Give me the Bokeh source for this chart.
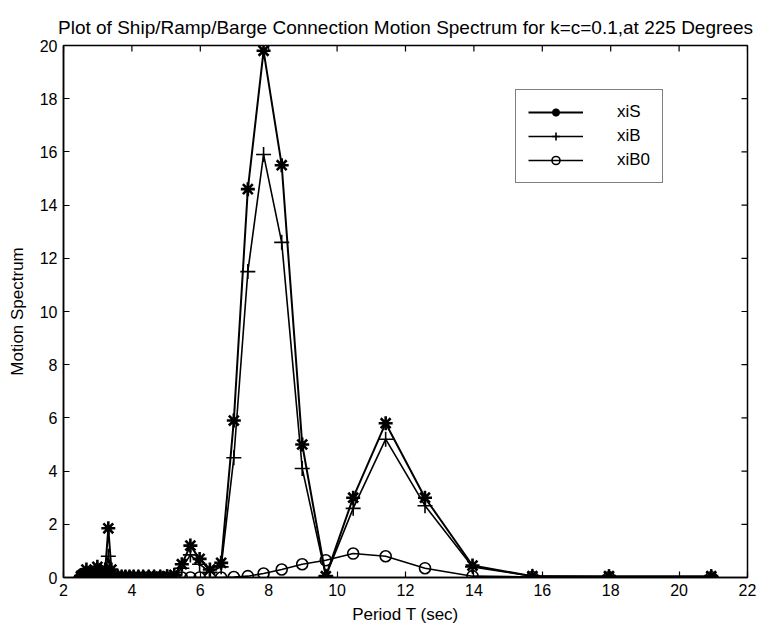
from bokeh.plotting import figure
from bokeh.models import Range1d, FixedTicker, Legend, LegendItem, ColumnDataSource
from bokeh.embed import file_html
from bokeh.resources import INLINE

# Periods (sec), ascending
period = [2.51, 2.56, 2.62, 2.67, 2.73, 2.79, 2.86, 2.92, 2.99, 3.06,
          3.14, 3.22, 3.31, 3.40, 3.49, 3.59, 3.70, 3.81, 3.93, 4.05,
          4.19, 4.33, 4.49, 4.65, 4.83, 5.03, 5.24, 5.46, 5.71, 5.98,
          6.28, 6.61, 6.98, 7.39, 7.85, 8.38, 8.98, 9.67, 10.47, 11.42,
          12.57, 13.96, 15.71, 17.95, 20.94]

xiS = [0.05, 0.10, 0.15, 0.30, 0.15, 0.10, 0.15, 0.25, 0.40, 0.20,
       0.10, 0.30, 1.85, 0.30, 0.05, 0.03, 0.03, 0.03, 0.03, 0.03,
       0.03, 0.03, 0.03, 0.03, 0.03, 0.05, 0.10, 0.50, 1.20, 0.70,
       0.30, 0.55, 5.90, 14.60, 19.80, 15.50, 5.00, 0.05, 3.00, 5.80,
       3.00, 0.45, 0.05, 0.05, 0.05]

xiB = [0.03, 0.05, 0.10, 0.20, 0.10, 0.05, 0.10, 0.20, 0.30, 0.15,
       0.05, 0.20, 0.80, 0.20, 0.03, 0.02, 0.02, 0.02, 0.02, 0.02,
       0.02, 0.02, 0.02, 0.02, 0.02, 0.03, 0.07, 0.35, 0.85, 0.50,
       0.20, 0.40, 4.50, 11.50, 15.90, 12.60, 4.10, 0.05, 2.60, 5.20,
       2.70, 0.40, 0.05, 0.03, 0.03]

xiB0 = [0.00, 0.00, 0.00, 0.00, 0.00, 0.00, 0.00, 0.00, 0.00, 0.00,
        0.00, 0.00, 0.00, 0.00, 0.00, 0.00, 0.00, 0.00, 0.00, 0.00,
        0.00, 0.00, 0.00, 0.00, 0.00, 0.00, 0.00, 0.00, 0.00, 0.00,
        0.00, 0.00, 0.02, 0.05, 0.15, 0.30, 0.50, 0.65, 0.90, 0.80,
        0.35, 0.05, 0.02, 0.01, 0.01]

x_ticks = [2, 4, 6, 8, 10, 12, 14, 16, 18, 20, 22]
y_ticks = [0, 2, 4, 6, 8, 10, 12, 14, 16, 18, 20]
x_min, x_max = 2, 22
y_min, y_max = 0, 20

title_text = "Plot of Ship/Ramp/Barge Connection Motion Spectrum for k=c=0.1,at 225 Degrees"
FONT = "Liberation Sans"

p = figure(width=776, height=630, output_backend="svg", toolbar_location=None,
           x_range=Range1d(x_min, x_max), y_range=Range1d(y_min, y_max),
           x_axis_label="Period T (sec)", y_axis_label="Motion Spectrum",
           title=title_text)
p.min_border_left = 63
p.min_border_right = 29
p.min_border_top = 45
p.min_border_bottom = 53
p.background_fill_color = "white"
p.border_fill_color = "white"
p.outline_line_color = "black"
p.outline_line_width = 1.5
p.xgrid.visible = False
p.ygrid.visible = False

p.title.align = "center"
p.title.text_font = FONT
p.title.text_font_size = "19px"
p.title.text_font_style = "normal"
p.title.text_color = "black"
p.title.standoff = 16
p.title.offset = 4

for ax in (p.xaxis[0], p.yaxis[0]):
    ax.axis_line_color = "black"
    ax.axis_line_width = 1.5
    ax.major_tick_in = 6
    ax.major_tick_out = 0
    ax.minor_tick_line_color = None
    ax.major_tick_line_color = "black"
    ax.major_tick_line_width = 1.2
    ax.major_label_text_font = FONT
    ax.major_label_text_font_size = "16px"
    ax.major_label_text_color = "black"
    ax.axis_label_text_font = FONT
    ax.axis_label_text_font_size = "17px"
    ax.axis_label_text_font_style = "normal"
    ax.axis_label_text_color = "black"

p.xaxis[0].ticker = FixedTicker(ticks=x_ticks)
p.yaxis[0].ticker = FixedTicker(ticks=y_ticks)
p.xaxis[0].major_label_standoff = 6
p.yaxis[0].major_label_standoff = 6
p.xaxis[0].axis_label_standoff = 6
p.yaxis[0].axis_label_standoff = 10

# box ticks on top and right edges (markers clipped by the frame -> inward ticks)
p.scatter(x=x_ticks, y=[y_max] * len(x_ticks), marker="dash", angle=1.5708,
          size=12, line_color="black", line_width=1.2)
p.scatter(x=[x_max] * len(y_ticks), y=y_ticks, marker="dash",
          size=12, line_color="black", line_width=1.2)

src = ColumnDataSource(dict(t=period, s=xiS, b=xiB, b0=xiB0))

l1 = p.line("t", "s", source=src, line_color="black", line_width=2)
m1 = p.scatter("t", "s", source=src, marker="asterisk", size=14, line_color="black", line_width=2.6)
l2 = p.line("t", "b", source=src, line_color="black", line_width=1.6)
m2 = p.scatter("t", "b", source=src, marker="cross", size=15, line_color="black", line_width=1.6)
l3 = p.line("t", "b0", source=src, line_color="black", line_width=1.6)
m3 = p.scatter("t", "b0", source=src, marker="circle", size=11, line_color="black",
               fill_color="white", fill_alpha=0, line_width=1.6)

legend = Legend(items=[LegendItem(label="xiS", renderers=[l1, m1]),
                       LegendItem(label="xiB", renderers=[l2, m2]),
                       LegendItem(label="xiB0", renderers=[l3, m3])],
                location=(452, 394))
legend.glyph_width = 55
legend.glyph_height = 20
legend.label_standoff = 34
legend.spacing = 4
legend.padding = 12
legend.margin = 0
legend.border_line_color = "black"
legend.border_line_width = 1.5
legend.background_fill_color = "white"
legend.background_fill_alpha = 1
legend.label_text_font = FONT
legend.label_text_font_size = "17px"
legend.label_text_color = "black"
p.add_layout(legend, "center")

open("out.html", "w").write(file_html(p, INLINE))
